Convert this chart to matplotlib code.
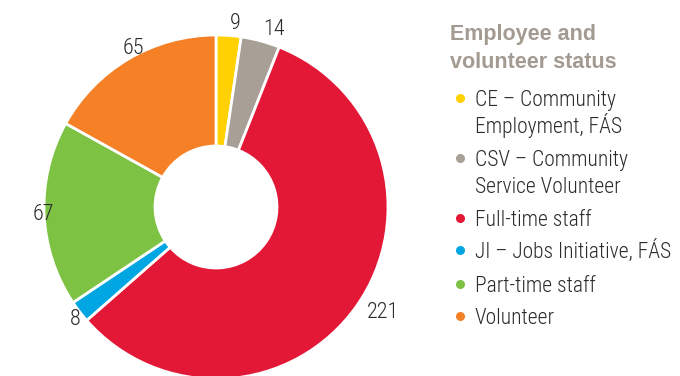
import numpy as np
import matplotlib
matplotlib.use('Agg')
import matplotlib.pyplot as plt

# ---- data ----
labels = ['CE – Community\nEmployment, FÁS',
          'CSV – Community\nService Volunteer',
          'Full-time staff',
          'JI – Jobs Initiative, FÁS',
          'Part-time staff',
          'Volunteer']
values = [9, 14, 221, 8, 67, 65]
colors = ['#FFD100', '#A89F96', '#E31837', '#00A6E2', '#7DC242', '#F58025']
title = ['Employee and', 'volunteer status']

TXT = ['Roboto Condensed', 'Archivo Narrow', 'Liberation Sans', 'DejaVu Sans']
INK = '#2b2b2b'
W, H = 680, 376

fig = plt.figure(figsize=(W / 100, H / 100), dpi=100)
ax = fig.add_axes([0, 0, 1, 1])

# ring chart, drawn in pixel units (origin bottom-left)
cx, cy, R = 216, H - 207, 172
wedges, texts = ax.pie(values, labels=[str(v) for v in values],
                       colors=colors, startangle=90, counterclock=False,
                       center=(cx, cy), radius=R, labeldistance=(R + 12) / R,
                       wedgeprops=dict(width=R - 61, edgecolor='white',
                                       linewidth=2),
                       textprops=dict(fontsize=16, color=INK, family=TXT,
                                      fontweight='light'))

ax.set_xlim(0, W)
ax.set_ylim(0, H)
ax.set_aspect('equal')
ax.axis('off')

# ---- legend (title + one dot per category) ----
for line, base in zip(title, [40, 68]):
    ax.text(450, H - base, line, ha='left', va='baseline', fontsize=15.5,
            fontweight='bold', color='#A39A91',
            family=['Liberation Sans', 'DejaVu Sans'])

first_base = [105.7, 166, 226, 258, 291.7, 324]
for lab, col, b in zip(labels, colors, first_base):
    ax.plot(460, H - (b - 8), 'o', color=col, markersize=6.5,
            markeredgewidth=0)
    for k, line in enumerate(lab.split('\n')):
        ax.text(475, H - (b + 27 * k), line, ha='left', va='baseline',
                fontsize=15.5, color=INK, family=TXT, fontweight='light')

fig.savefig('out.png', dpi=100)
